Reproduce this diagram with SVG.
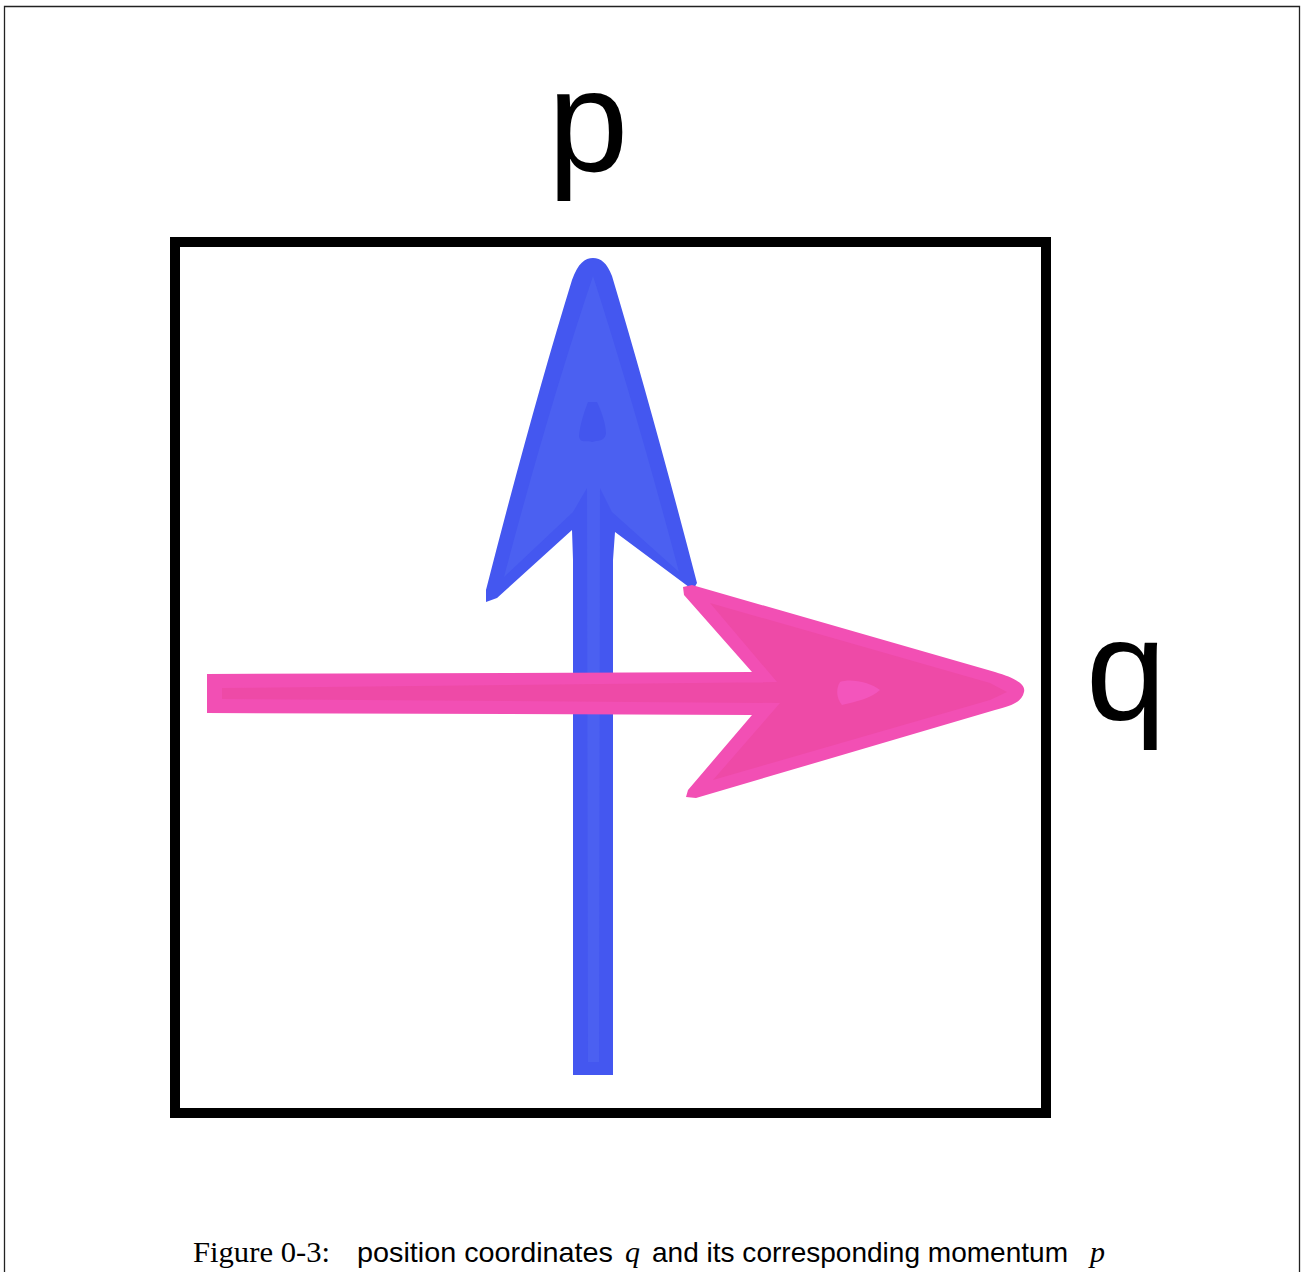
<svg xmlns="http://www.w3.org/2000/svg" width="1306" height="1272" viewBox="0 0 1306 1272">
<style>
.lbl{font-family:"Liberation Sans",Arial,sans-serif;font-size:145px;fill:#000;text-anchor:middle}
.ser{font-family:"Liberation Serif","Times New Roman",serif;font-size:29px;fill:#000}
.sans{font-family:"Liberation Sans",Arial,sans-serif;font-size:28px;fill:#000}
.it{font-family:"Liberation Serif","Times New Roman",serif;font-style:italic;font-size:30px;fill:#000}
</style>
<rect width="1306" height="1272" fill="#fff"/>
<path d="M4.5 1272 V6.5 H1299.5 V1272" fill="none" stroke="#222" stroke-width="1.3"/>
<g id="frame">
<rect x="175" y="242" width="871" height="871" fill="none" stroke="#000" stroke-width="10"/>
</g>
<g id="label-p"><text class="lbl" x="588" y="171">p</text></g>
<g id="label-q"><text class="lbl" x="1126" y="720">q</text></g>
<g id="connectors">
<g id="arrow-p">
<path d="M593 258 C601 258 607 263 612 276 Q652 410 697 583 L693 590 L615 532 L613 560 L613 1075 L573 1075 L573 560 L572 530 L497 598 L486 602 L486 590 Q532 410 572 280 C578 263 585 258 593 258 Z" fill="#4457F0"/>
<path d="M593 276 Q636 410 679 572 L612 512 L600 488 L599 1062 L588 1062 L587 488 L573 512 L504 577 Q548 410 593 276 Z" fill="#4B60F1"/>
<path d="M588 402 L597 402 C602 412 606 425 606 434 C604 442 598 440 592 442 C586 440 580 444 579 436 C580 425 584 412 588 402 Z" fill="#4356EE"/>
</g>
<g id="arrow-q">
<path d="M207 674 L752 672 L684 595 L683 587 L692 585 L995 672 C1015 678 1026 684 1024 692 C1022 702 1012 706 995 710 L696 798 L686 797 L688 790 L752 715 L207 713 Z" fill="#F24FB4"/>
<path d="M710 603 L990 683 L1007 692 L990 700 L713 780 L780 703 L222 699 L222 688 L777 682 Z" fill="#EE4AA7"/>
<path d="M840 682 C850 678 870 682 880 690 C872 698 855 702 842 705 C836 698 836 688 840 682 Z" fill="#F355BC"/>
</g>
</g>
<g id="caption">
<text class="ser" x="193" y="1262" textLength="137" lengthAdjust="spacingAndGlyphs">Figure 0-3:</text>
<text class="sans" x="357" y="1262" textLength="256" lengthAdjust="spacingAndGlyphs">position coordinates</text>
<text class="it" x="625" y="1262">q</text>
<text class="sans" x="652" y="1262" textLength="416" lengthAdjust="spacingAndGlyphs">and its corresponding momentum</text>
<text class="it" x="1090" y="1262">p</text>
</g>
</svg>
